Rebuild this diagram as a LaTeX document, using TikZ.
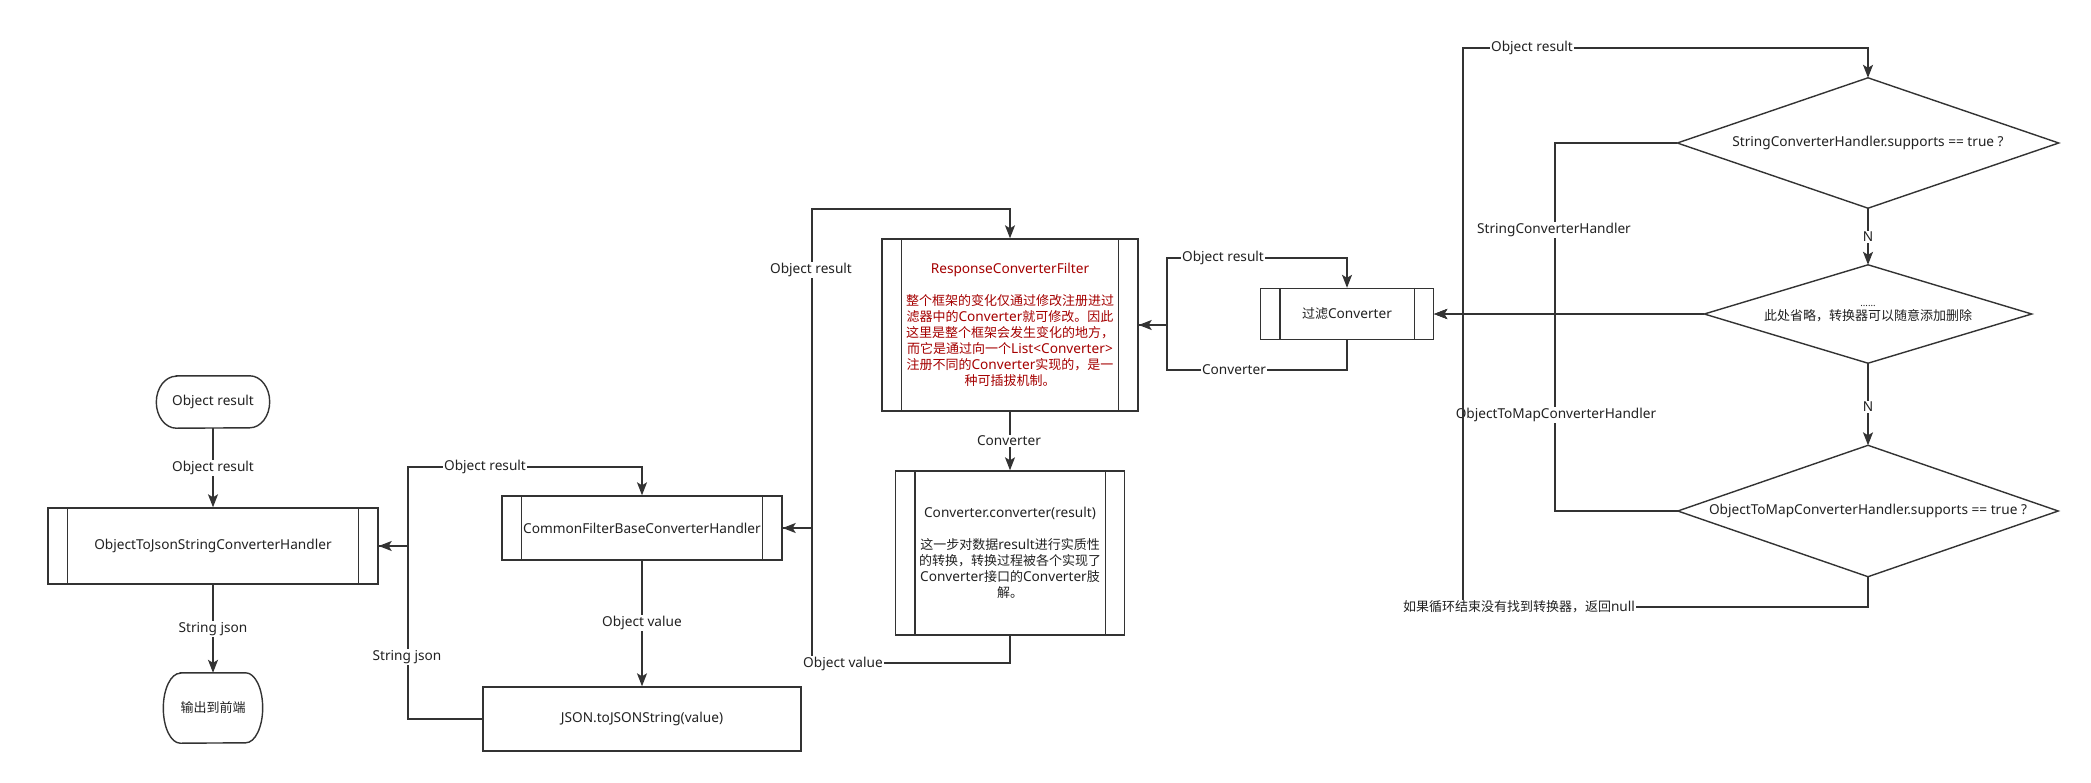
\documentclass[tikz,border=0pt]{standalone}
\usepackage{fontspec}
\usetikzlibrary{arrows.meta}
\setmainfont{Noto Sans}[Scale=1.05]
\newfontfamily\cjk{Noto Sans CJK SC}
\XeTeXinterchartokenstate=1
\newXeTeXintercharclass\cjkclass
\newcount\cjkcnt
\def\cjkrange#1#2{\cjkcnt=#1\relax\loop\XeTeXcharclass\cjkcnt=\cjkclass\advance\cjkcnt by 1\relax\ifnum\cjkcnt<#2\relax\repeat}
\cjkrange{"3000}{"3040}
\cjkrange{"4E00}{"A000}
\cjkrange{"FF00}{"FFF0}
\XeTeXinterchartoks 0 \cjkclass = {\cjk}
\XeTeXinterchartoks 4095 \cjkclass = {\cjk}
\XeTeXinterchartoks \cjkclass 0 = {\rmfamily}
\XeTeXinterchartoks \cjkclass 4095 = {\rmfamily}
\definecolor{lc}{RGB}{51,51,51}
\definecolor{txt}{RGB}{34,34,34}
\definecolor{redtxt}{RGB}{165,0,0}
\newcommand\fsz{\fontsize{13pt}{16pt}\selectfont}
\newcommand\termoutline[3]{\draw[ln] ([xshift=#2]#1.north west) -- ([xshift=-#2]#1.north east) arc[start angle=90,end angle=-90,x radius=#2,y radius=#3] -- ([xshift=#2]#1.south west) arc[start angle=270,end angle=90,x radius=#2,y radius=#3] -- cycle;}
\newcommand\pbars[1]{\draw[ln] ([xshift=20pt]#1.north west) -- ([xshift=20pt]#1.south west) ([xshift=-20pt]#1.north east) -- ([xshift=-20pt]#1.south east);}
\begin{document}
\begin{tikzpicture}[x=1pt,y=-1pt,
  ln/.style={draw=lc, line width=1.4pt},
  arr/.style={-{Stealth[length=13pt,width=10pt,inset=3pt]}},
  box/.style={draw=lc, line width=1.4pt, fill=white, text=txt, font=\fsz, align=center, inner sep=2pt},
  blank/.style={draw=none, text=txt, font=\fsz, align=center, inner sep=0pt},
  lab/.style={fill=white, text=txt, font=\fsz, inner sep=1pt}]
\fill[white] (0,0) rectangle (2091,782);
\useasboundingbox (0,0) rectangle (2091,782);
% nodes
\node[blank, minimum width=113pt, minimum height=52pt] (t1) at (213,402) {Object result};
\node[box, minimum width=330pt, minimum height=76pt] (otj) at (213,546) {ObjectToJsonStringConverterHandler};
\node[blank, minimum width=99pt, minimum height=70pt] (t2) at (213,708) {输出到前端};
\node[box, minimum width=280pt, minimum height=64pt] (cf) at (642,528) {CommonFilterBaseConverterHandler};
\node[box, minimum width=318pt, minimum height=64pt] (json) at (642,719) {JSON.toJSONString(value)};
\node[box, minimum width=256pt, minimum height=172pt, text=redtxt] (rcf) at (1010,325) {ResponseConverterFilter\\[16pt]整个框架的变化仅通过修改注册进过\\滤器中的Converter就可修改。因此\\这里是整个框架会发生变化的地方，\\而它是通过向一个List<Converter>\\注册不同的Converter实现的，是一\\种可插拔机制。};
\node[box, minimum width=229pt, minimum height=164pt] (cc) at (1010,553) {Converter.converter(result)\\[16pt]这一步对数据result进行实质性\\的转换，转换过程被各个实现了\\Converter接口的Converter肢\\解。};
\node[box, minimum width=173pt, minimum height=51pt] (flt) at (1347,314) {过滤Converter};
\node[blank, minimum width=381pt, minimum height=130pt] (d1) at (1868,143) {StringConverterHandler.supports == true ?};
\node[blank, minimum width=327pt, minimum height=98pt] (d2) at (1868,314) {{\fontsize{9pt}{9pt}\selectfont ......}\\[-2pt]此处省略，转换器可以随意添加删除};
\node[blank, minimum width=380pt, minimum height=131pt] (d3) at (1868,511) {ObjectToMapConverterHandler.supports == true ?};
% outlines
\termoutline{t1}{20pt}{26pt}
\termoutline{t2}{17pt}{35pt}
\pbars{otj}\pbars{cf}\pbars{rcf}\pbars{cc}\pbars{flt}
\foreach \d in {d1,d2,d3}{\draw[ln] (\d.north) -- (\d.east) -- (\d.south) -- (\d.west) -- cycle;}
% edges
\draw[ln,arr] (t1.south) -- (otj.north);
\draw[ln,arr] (otj.south) -- (t2.north);
\draw[ln,arr] (otj.east) -| (408,467) -| (cf.north);
\draw[ln,arr] (json.west) -| (408,546) -- (otj.east);
\draw[ln,arr] (cf.south) -- (json.north);
\draw[ln,arr] (cf.east) -| (812,209) -| (rcf.north);
\draw[ln,arr] (cc.south) |- (812,663) |- (cf.east);
\draw[ln,arr] (rcf.south) -- (cc.north);
\draw[ln,arr] (rcf.east) -| (1167,258) -| (flt.north);
\draw[ln,arr] (flt.south) |- (1167,370) |- (rcf.east);
\draw[ln,arr] (d1.west) -| (1555,314) -- (flt.east);
\draw[ln,arr] (d2.west) -- (flt.east);
\draw[ln,arr] (d3.west) -| (1555,314) -- (flt.east);
\draw[ln,arr] (d1.south) -- (d2.north);
\draw[ln,arr] (d2.south) -- (d3.north);
% labels
\node[lab] (la1) at (213,468) {Object result};
\node[lab] (la2) at (213,629) {String json};
\node[lab] (la3) at (485,467) {Object result};
\node[lab] (la4) at (407,657) {String json};
\node[lab] (la5) at (642,623) {Object value};
\node[lab] (la6) at (811,270) {Object result};
\node[lab] (la7) at (843,664) {Object value};
\node[lab] (la8) at (1009,441) {Converter};
\node[lab] (la9) at (1223,258) {Object result};
\node[lab] (la10) at (1234,370) {Converter};
\node[lab] (la11) at (1554,230) {StringConverterHandler};
\node[lab] (la12) at (1556,415) {ObjectToMapConverterHandler};
\node[lab] (la13) at (1868,237) {N};
\node[lab] (la14) at (1868,407) {N};
% loop
\draw[ln,arr] (d3.south) |- (1463,607) |- (1868,48) -- (d1.north);
\node[lab] (la15) at (1519,607) {如果循环结束没有找到转换器，返回null};
\node[lab] (la16) at (1532,48) {Object result};
\end{tikzpicture}
\end{document}
